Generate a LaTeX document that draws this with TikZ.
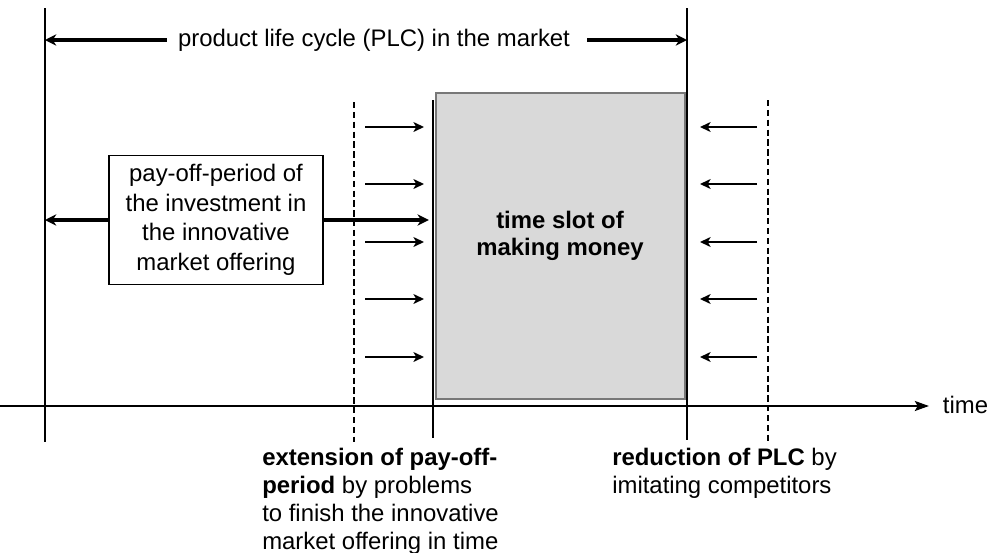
\documentclass[tikz,border=0pt]{standalone}
\usepackage{fontspec}
\setmainfont{Liberation Sans}
\usetikzlibrary{arrows.meta, positioning, calc}
\definecolor{slotgray}{RGB}{217,217,217}
\definecolor{slotedge}{RGB}{120,120,120}
\tikzstyle{bigarrow} = [line width=2.4pt,-{Stealth[length=8pt,width=8pt,inset=2.5pt]}]
\tikzstyle{smallarrow} = [line width=2pt,-{Stealth[length=7.5pt,width=7pt,inset=2pt]}]
\tikzstyle{marker} = [line width=0.9pt]
\tikzstyle{dashmarker} = [line width=0.8pt, dash pattern=on 4.5pt off 2.5pt]

\begin{document}
\begin{tikzpicture}[x=0.025cm, y=-0.025cm, every node/.style={font=\fontsize{17}{20}\selectfont}]
        \useasboundingbox (0,0) rectangle (995,553);

        % Market borders
        \coordinate (Ltop) at (45,8);
        \coordinate (Lbot) at (45,442);
        \coordinate (Rtop) at (687,8);
        \coordinate (Rbot) at (687,440);
        \draw[marker] (Ltop) -- (Lbot);
        \draw[marker] (Rtop) -- (Rbot);

        % PLC
        \node[inner sep=8pt] (plc) at (374,40) {product life cycle (PLC) in the market};
        \draw[bigarrow] (plc.west) -- (plc.west -| Ltop);
        \draw[bigarrow] ([xshift=4pt]plc.east) -- (plc.east -| Rtop);

        % Time slot
        \draw[fill=slotgray, draw=slotedge, line width=1pt] (436,93) rectangle (685,399);
        \node[font=\fontsize{17}{19.5}\selectfont\bfseries, align=center] (slot) at (560,236) {time slot of\\making money};

        % Market entry and shifted borders
        \coordinate (Mtop) at (433,100);
        \coordinate (Mbot) at (433,438);
        \draw[line width=1.5pt] (Mtop) -- (Mbot);
        \coordinate (D1top) at (354,102);
        \coordinate (D1bot) at (354,442);
        \coordinate (D2top) at (768,100);
        \coordinate (D2bot) at (768,443);
        \draw[dashmarker] (D1top) -- (D1bot);
        \draw[dashmarker] (D2top) -- (D2bot);

        % Timeline
        \coordinate (t0) at (0,406);
        \coordinate (t1) at (929,406);
        \draw[line width=1.8pt, -{Stealth[length=10pt,width=7pt,inset=2pt]}] (t0) -- (t1);
        \node[anchor=west] (time) at (938,405) {time};

        % Pay-off period
        \node[draw, line width=0.8pt, minimum width=5.35cm, minimum height=3.225cm, align=center,
              font=\fontsize{17}{21}\selectfont] (payoff) at (216,220)
              {pay-off-period of\\the investment in\\the innovative\\market offering};
        \draw[bigarrow] (payoff.west) -- (payoff.west -| Ltop);
        \draw[bigarrow, shorten >=3pt] (payoff.east) -- (payoff.east -| Mtop);

        % Delays and imitators
        \foreach \y in {127,184,242,299,357}{
          \draw[smallarrow] (365,\y) -- (424,\y);
          \draw[smallarrow] (757,\y) -- (700,\y);
        }

        % Notes
        \node[anchor=north west, align=left, inner sep=0pt, font=\fontsize{17}{19.8}\selectfont] (ext) at (262,448)
              {\textbf{extension of pay-off-}\\\textbf{period} by problems\\to finish the innovative\\market offering in time};
        \node[anchor=north west, align=left, inner sep=0pt, font=\fontsize{17}{19.8}\selectfont] (reduct) at (612,448)
              {\textbf{reduction of PLC} by\\imitating competitors};
\end{tikzpicture}
\end{document}
